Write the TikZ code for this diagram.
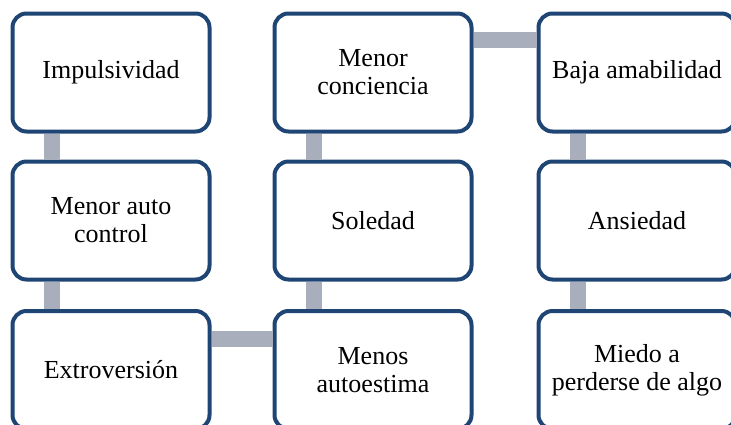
\documentclass[tikz,border=0pt]{standalone}
\usepackage{fontspec}
\setmainfont{Liberation Serif}
\usetikzlibrary{calc}
\definecolor{boxblue}{HTML}{1F4575}
\definecolor{conngray}{HTML}{A8AEBC}
\begin{document}
\begin{tikzpicture}[x=1pt,y=-1pt,
  box/.style={draw=boxblue, line width=4pt, rounded corners=14pt, fill=white,
    minimum width=197pt, minimum height=118pt, inner sep=0pt, align=center,
    font=\fontsize{26}{28}\selectfont},
  conn/.style={draw=conngray, line width=16pt}]
\useasboundingbox (0,0) rectangle (731,424);
\clip (0,0) rectangle (731,424);
\node[box] (imp) at (111,72.5) {Impulsividad};
\node[box] (mac) at (111,220.5) {Menor auto\\control};
\node[box] (ext) at (111,370) {Extroversión};
\node[box] (mco) at (373,72.5) {Menor\\conciencia};
\node[box] (sol) at (373,220.5) {Soledad};
\node[box] (mau) at (373,370) {Menos\\autoestima};
\node[box] (baj) at (637,72.5) {Baja amabilidad};
\node[box] (ans) at (637,220.5) {Ansiedad};
\node[box] (mie) at (637,370) {Miedo a\\perderse de algo};
\begin{scope}
\draw[conn] ($(imp.south west)+(41.5,0)$) -- ($(mac.north west)+(41.5,0)$);
\draw[conn] ($(mac.south west)+(41.5,0)$) -- ($(ext.north west)+(41.5,0)$);
\draw[conn] ($(ext.north east)+(0,30)$) -- ($(mau.north west)+(0,30)$);
\draw[conn] ($(mau.north west)+(41.5,0)$) -- ($(sol.south west)+(41.5,0)$);
\draw[conn] ($(sol.north west)+(41.5,0)$) -- ($(mco.south west)+(41.5,0)$);
\draw[conn] ($(mco.north east)+(0,28)$) -- ($(baj.north west)+(0,28)$);
\draw[conn] ($(baj.south west)+(41,0)$) -- ($(ans.north west)+(41,0)$);
\draw[conn] ($(ans.south west)+(41,0)$) -- ($(mie.north west)+(41,0)$);
\end{scope}
\end{tikzpicture}
\end{document}
